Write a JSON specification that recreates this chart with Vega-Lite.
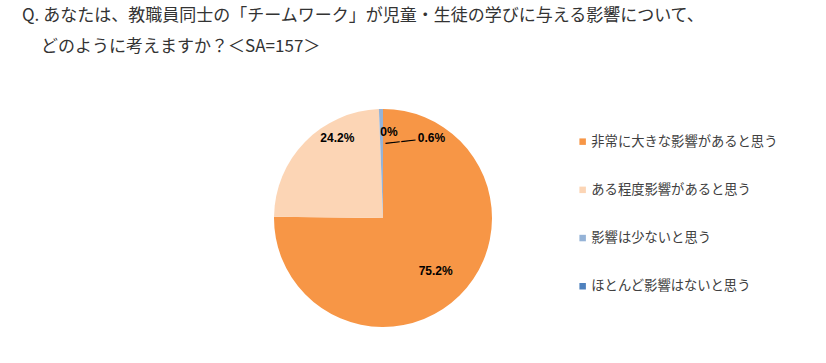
{
  "$schema": "https://vega.github.io/schema/vega-lite/v6.json",
  "width": 218,
  "height": 218,
  "autosize": "none",
  "padding": {"left": 274, "top": 109, "right": 334, "bottom": 36},
  "background": "white",
  "title": {
    "text": ["Q. あなたは、教職員同士の「チームワーク」が児童・生徒の学びに与える影響について、", "\u200b\u2003\u200a\u200aどのように考えますか？＜SA=157＞"],
    "anchor": "start",
    "frame": "group",
    "dx": -252,
    "offset": 53,
    "font": "Noto Sans CJK JP",
    "fontSize": 17,
    "fontWeight": "normal",
    "color": "#333333",
    "lineHeight": 31,
    "baseline": "top"
  },
  "data": {
    "values": [
      {"category": "非常に大きな影響があると思う", "value": 75.2, "label": "75.2%", "order": 1},
      {"category": "ある程度影響があると思う", "value": 24.2, "label": "24.2%", "order": 2},
      {"category": "影響は少ないと思う", "value": 0.6, "label": "0.6%", "order": 3},
      {"category": "ほとんど影響はないと思う", "value": 0, "label": "0%", "order": 4}
    ]
  },
  "encoding": {
    "theta": {"field": "value", "type": "quantitative", "stack": true},
    "order": {"field": "order", "type": "quantitative"}
  },
  "layer": [
    {
      "mark": {"type": "arc", "outerRadius": 109, "stroke": null},
      "encoding": {
        "color": {
          "field": "category",
          "type": "nominal",
          "sort": ["非常に大きな影響があると思う", "ある程度影響があると思う", "影響は少ないと思う", "ほとんど影響はないと思う"],
          "scale": {
            "domain": ["非常に大きな影響があると思う", "ある程度影響があると思う", "影響は少ないと思う", "ほとんど影響はないと思う"],
            "range": ["#F79646", "#FCD5B5", "#95B3D7", "#4F81BD"]
          },
          "legend": {
            "title": null,
            "orient": "none",
            "legendX": 302,
            "legendY": 26,
            "symbolType": "square",
            "symbolSize": 42,
            "symbolStrokeWidth": 0,
            "labelFont": "Noto Sans CJK JP",
            "labelFontSize": 13.3,
            "labelColor": "#404040",
            "labelOffset": 2,
            "rowPadding": 34.2,
            "labelLimit": 300
          }
        }
      }
    },
    {
      "mark": {"type": "text", "radius": 75, "font": "Liberation Sans", "fontSize": 12, "fontWeight": "bold", "color": "#000000"},
      "encoding": {
        "text": {"condition": {"test": "datum.order === 1", "field": "label"}, "value": ""}
      }
    },
    {
      "mark": {"type": "text", "radius": 75, "dx": 8, "dy": -28, "font": "Liberation Sans", "fontSize": 12, "fontWeight": "bold", "color": "#000000"},
      "encoding": {
        "text": {"condition": {"test": "datum.order === 2", "field": "label"}, "value": ""}
      }
    },
    {
      "mark": {"type": "text", "radius": 85, "dx": 50, "dy": 5, "font": "Liberation Sans", "fontSize": 12, "fontWeight": "bold", "color": "#000000"},
      "encoding": {
        "text": {"condition": {"test": "datum.order === 3", "field": "label"}, "value": ""}
      }
    },
    {
      "mark": {"type": "text", "radius": 85, "dx": 6, "dy": -1, "font": "Liberation Sans", "fontSize": 12, "fontWeight": "bold", "color": "#000000"},
      "encoding": {
        "text": {"condition": {"test": "datum.order === 4", "field": "label"}, "value": ""}
      }
    },
    {
      "mark": {"type": "text", "radius": 85, "dx": 18, "dy": 10, "angle": -6, "font": "DejaVu Sans", "fontSize": 16, "color": "#000000"},
      "encoding": {
        "text": {"condition": {"test": "datum.order === 3", "value": "——"}, "value": ""}
      }
    }
  ]
}
